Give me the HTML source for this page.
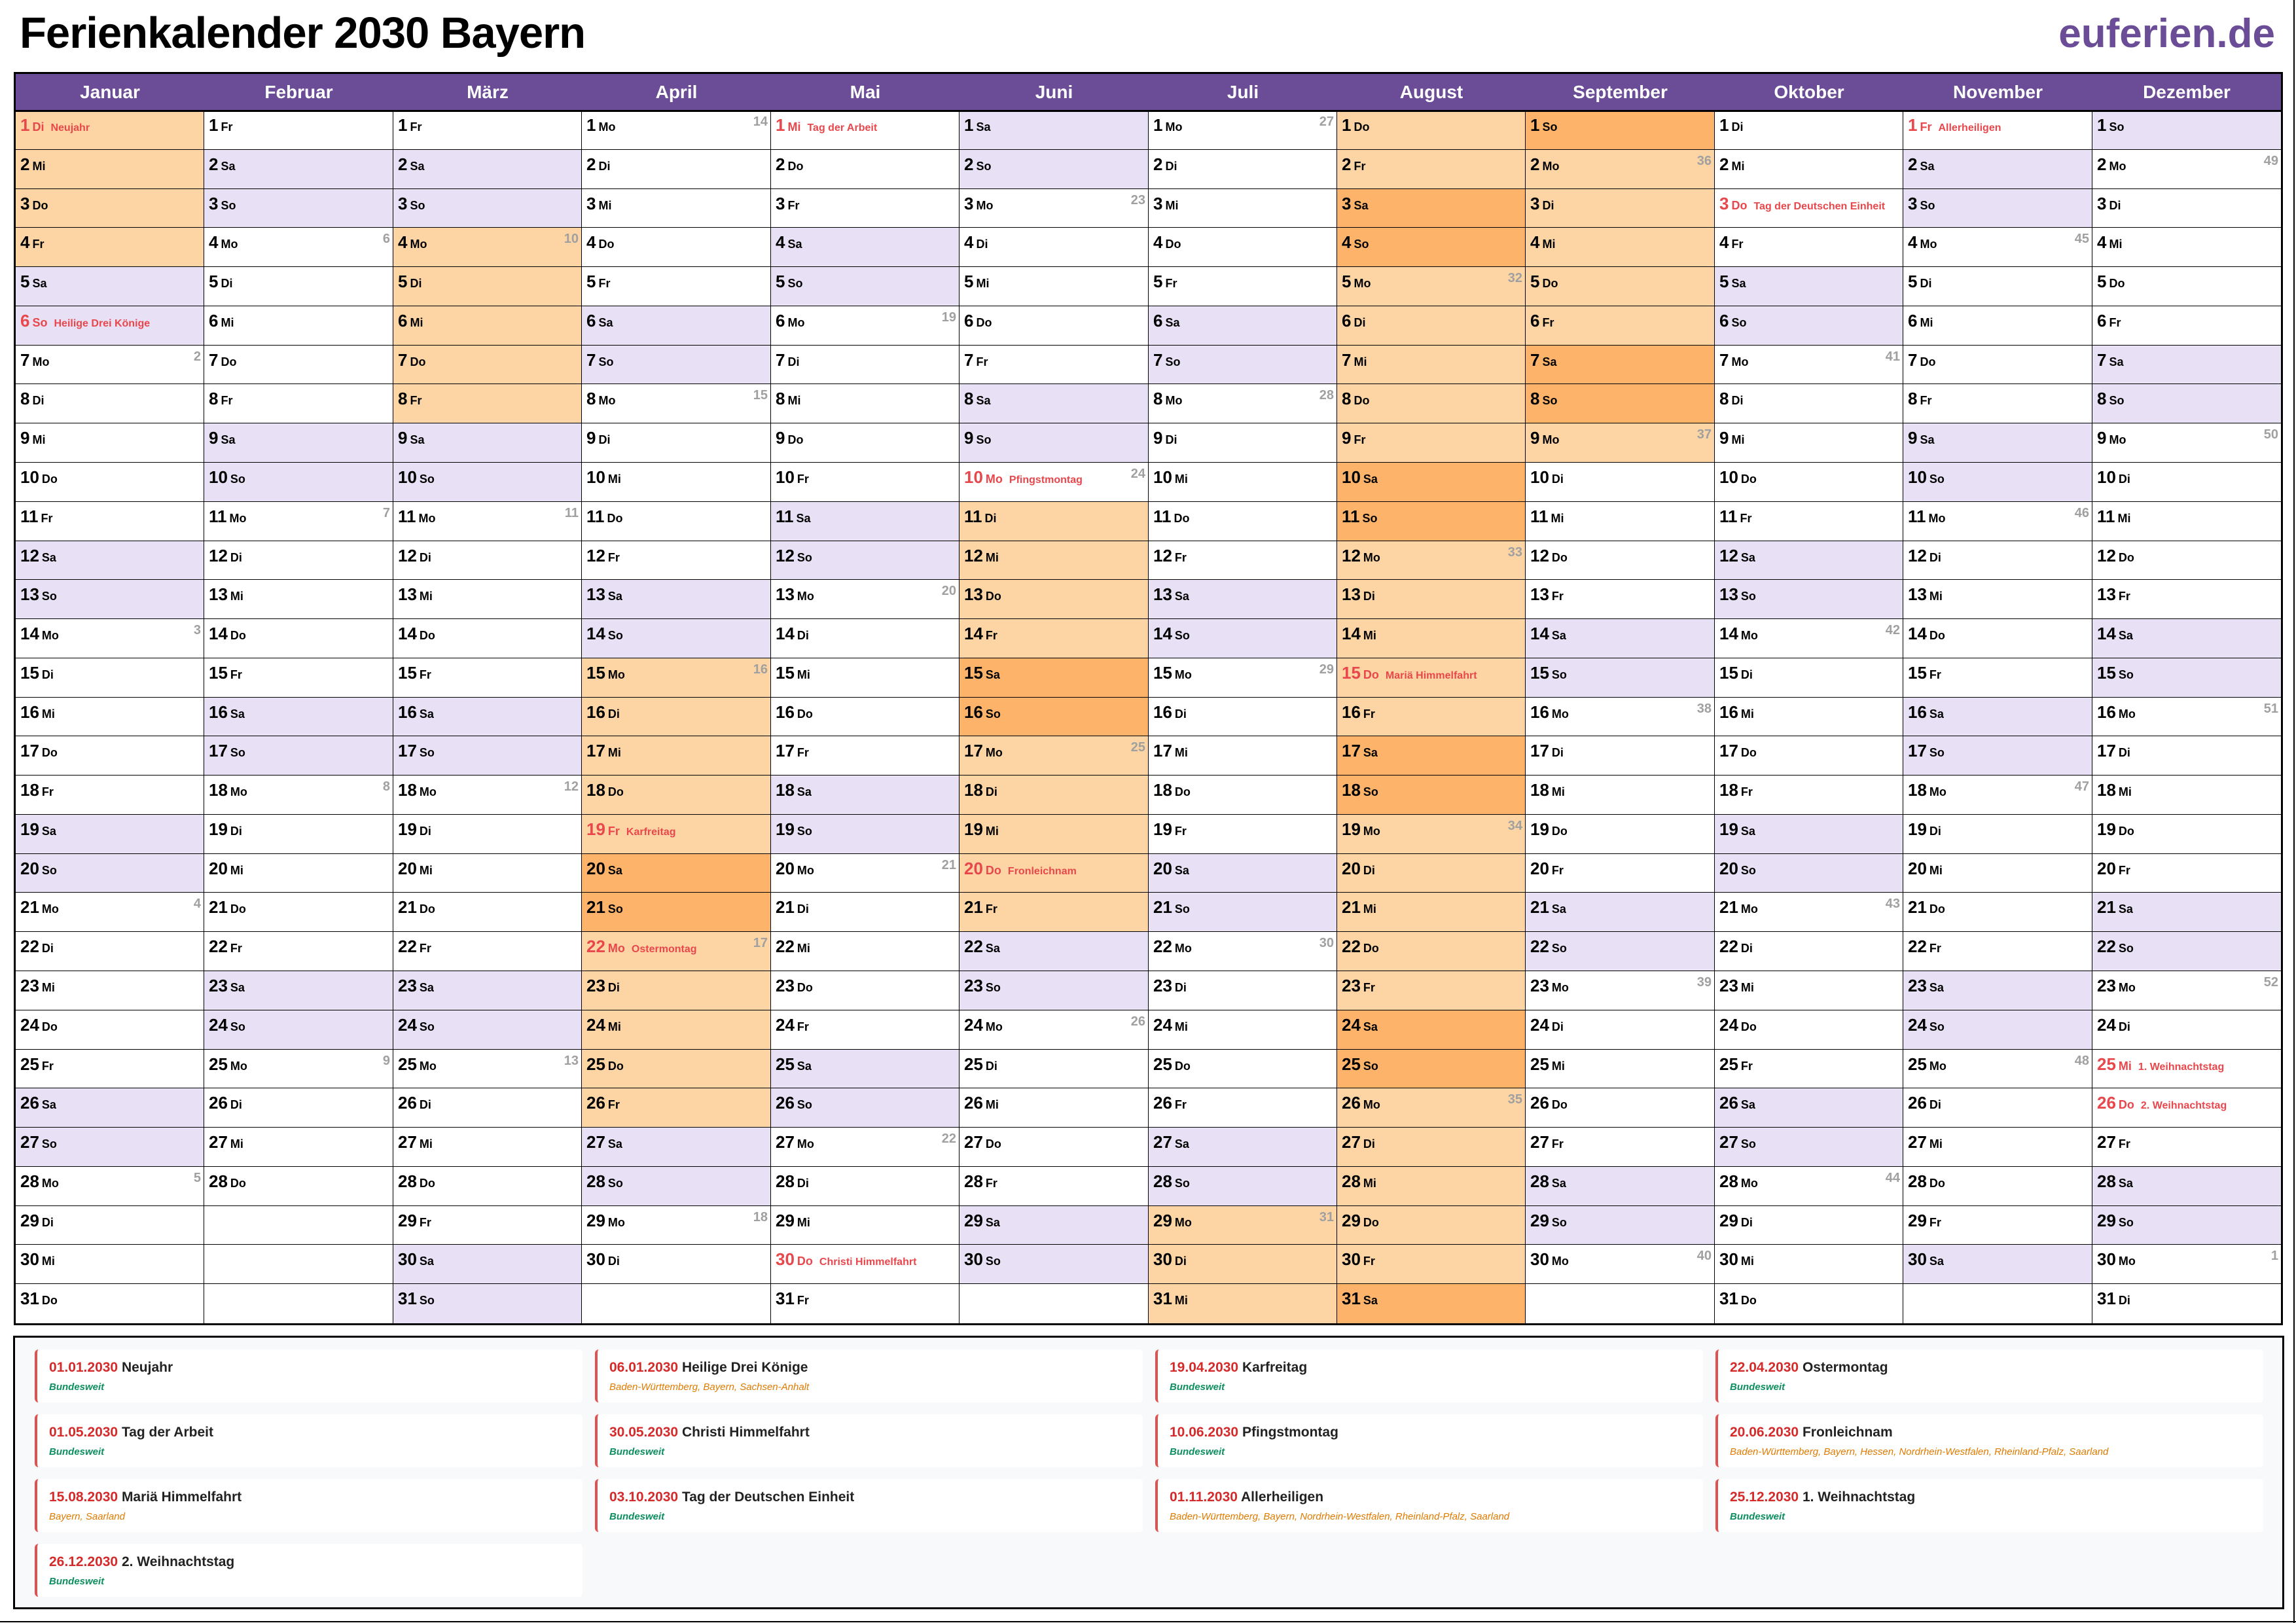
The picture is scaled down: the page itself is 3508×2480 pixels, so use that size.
<!DOCTYPE html>
<html><head><meta charset="utf-8">
<style>
*{margin:0;padding:0;box-sizing:border-box}
body{width:3508px;height:2480px;background:#fff;position:relative;overflow:hidden;font-family:"Liberation Sans",Arial,sans-serif}
.t{position:absolute;left:30px;top:12px;font-size:67px;font-weight:bold;color:#000;letter-spacing:-1px}
.logo{position:absolute;right:32px;top:16px;font-size:62px;font-weight:bold;color:#6b4c96}
#cal{position:absolute;left:21px;top:110px;width:3467px;height:1915px;border:3px solid #000;background:#fff}
.h{position:absolute;top:0;height:56px;background:#6b4c96;color:#fff;font-weight:bold;font-size:28px;text-align:center;line-height:56px}
.c{position:absolute;border-right:1px solid #000;border-bottom:1px solid #000;overflow:hidden;white-space:nowrap}
.n{position:absolute;left:7px;top:9px;font-size:26px;font-weight:bold;line-height:1}
.n b{font-size:18px;margin-left:4px}
.n i{font-style:normal;font-size:16px;margin-left:10px}
.hol{color:#e8474c}
.w{position:absolute;right:4px;top:6px;font-size:20px;font-weight:bold;color:#a0a0a0}
#leg{position:absolute;left:20px;top:2041px;width:3470px;height:418px;border:3px solid #000;background:#f8f9fa}
.it{position:absolute;width:837px;height:81px;background:#fff;border-left:4px solid #e05252;border-radius:6px}
.d{position:absolute;left:18px;top:16px;font-size:21px;font-weight:bold;color:#222}
.d span{color:#d42a2a}
.s{position:absolute;left:18px;top:49px;font-size:15px;font-style:italic;font-weight:bold}
.g{color:#0e8f5f}.o{color:#e07b00;font-weight:normal}
</style></head><body>
<div class="t">Ferienkalender 2030 Bayern</div>
<div class="logo">euferien.de</div>
<div id="cal"></div>
<div id="leg"></div>
<div style="position:absolute;right:2px;top:0;width:2px;height:2480px;background:#000"></div>
<div style="position:absolute;left:0;bottom:1px;width:3508px;height:2px;background:#000"></div>
<script>
var months=["Januar","Februar","März","April","Mai","Juni","Juli","August","September","Oktober","November","Dezember"];
var dn=["Mo","Di","Mi","Do","Fr","Sa","So"];
var hol={"1-1":"Neujahr","1-6":"Heilige Drei Könige","4-19":"Karfreitag","4-22":"Ostermontag","5-1":"Tag der Arbeit","5-30":"Christi Himmelfahrt","6-10":"Pfingstmontag","6-20":"Fronleichnam","8-15":"Mariä Himmelfahrt","10-3":"Tag der Deutschen Einheit","11-1":"Allerheiligen","12-25":"1. Weihnachtstag","12-26":"2. Weihnachtstag"};
var vac=[[1,1,1,4],[3,4,3,8],[4,15,4,26],[6,11,6,21],[7,29,9,9]];
function inVac(m,d){var v=m*100+d;for(var i=0;i<vac.length;i++){if(v>=vac[i][0]*100+vac[i][1]&&v<=vac[i][2]*100+vac[i][3])return true;}return false;}
function isoWeek(dt){var d=new Date(Date.UTC(dt.getFullYear(),dt.getMonth(),dt.getDate()));var day=d.getUTCDay()||7;d.setUTCDate(d.getUTCDate()+4-day);var ys=new Date(Date.UTC(d.getUTCFullYear(),0,1));return Math.ceil(((d-ys)/86400000+1)/7);}
var cal=document.getElementById('cal'),h='';
var W=3461/12,H=(1909-56)/31;
for(var m=0;m<12;m++){
 var x=Math.round(m*W),x2=Math.round((m+1)*W);
 h+='<div class="h" style="left:'+x+'px;width:'+(x2-x)+'px">'+months[m]+'</div>';
 var dim=new Date(2030,m+1,0).getDate();
 for(var d=1;d<=31;d++){
  var y=Math.round(56+(d-1)*H),y2=Math.round(56+d*H);
  var bg='#fff',inner='';
  var br=(m==11)?'border-right:none;':'';
  var bb=(d==31)?'border-bottom:none;':'';
  if(d<=dim){
   var dt=new Date(2030,m,d),wd=(dt.getDay()+6)%7;
   var we=wd>=5,va=inVac(m+1,d),hn=hol[(m+1)+'-'+d];
   if(va)bg=we?'#fdb46a':'#fdd5a5';else if(we)bg='#e8e0f4';
   inner='<div class="n'+(hn?' hol':'')+'">'+d+'<b>'+dn[wd]+'</b>'+(hn?'<i><b style="font-size:16px;margin:0">'+hn+'</b></i>':'')+'</div>';
   if(wd==0)inner+='<div class="w">'+isoWeek(dt)+'</div>';
  }
  h+='<div class="c" style="left:'+x+'px;top:'+y+'px;width:'+(x2-x)+'px;height:'+(y2-y)+'px;background:'+bg+';'+br+bb+'">'+inner+'</div>';
 }
}
h+='<div style="position:absolute;left:0;top:55px;width:100%;height:3px;background:#000"></div>';
cal.innerHTML=h;
var L=[["01.01.2030","Neujahr","Bundesweit"],["06.01.2030","Heilige Drei Könige","Baden-Württemberg, Bayern, Sachsen-Anhalt"],["19.04.2030","Karfreitag","Bundesweit"],["22.04.2030","Ostermontag","Bundesweit"],
["01.05.2030","Tag der Arbeit","Bundesweit"],["30.05.2030","Christi Himmelfahrt","Bundesweit"],["10.06.2030","Pfingstmontag","Bundesweit"],["20.06.2030","Fronleichnam","Baden-Württemberg, Bayern, Hessen, Nordrhein-Westfalen, Rheinland-Pfalz, Saarland"],
["15.08.2030","Mariä Himmelfahrt","Bayern, Saarland"],["03.10.2030","Tag der Deutschen Einheit","Bundesweit"],["01.11.2030","Allerheiligen","Baden-Württemberg, Bayern, Nordrhein-Westfalen, Rheinland-Pfalz, Saarland"],["25.12.2030","1. Weihnachtstag","Bundesweit"],
["26.12.2030","2. Weihnachtstag","Bundesweit"]];
var lh='';
for(var i=0;i<L.length;i++){var c=i%4,r=Math.floor(i/4);
 lh+='<div class="it" style="left:'+(30+c*856)+'px;top:'+(18+r*99)+'px"><div class="d"><span>'+L[i][0]+'</span> '+L[i][1]+'</div><div class="s '+(L[i][2]=="Bundesweit"?'g':'o')+'">'+L[i][2]+'</div></div>';}
document.getElementById('leg').innerHTML=lh;
</script>
</body></html>
